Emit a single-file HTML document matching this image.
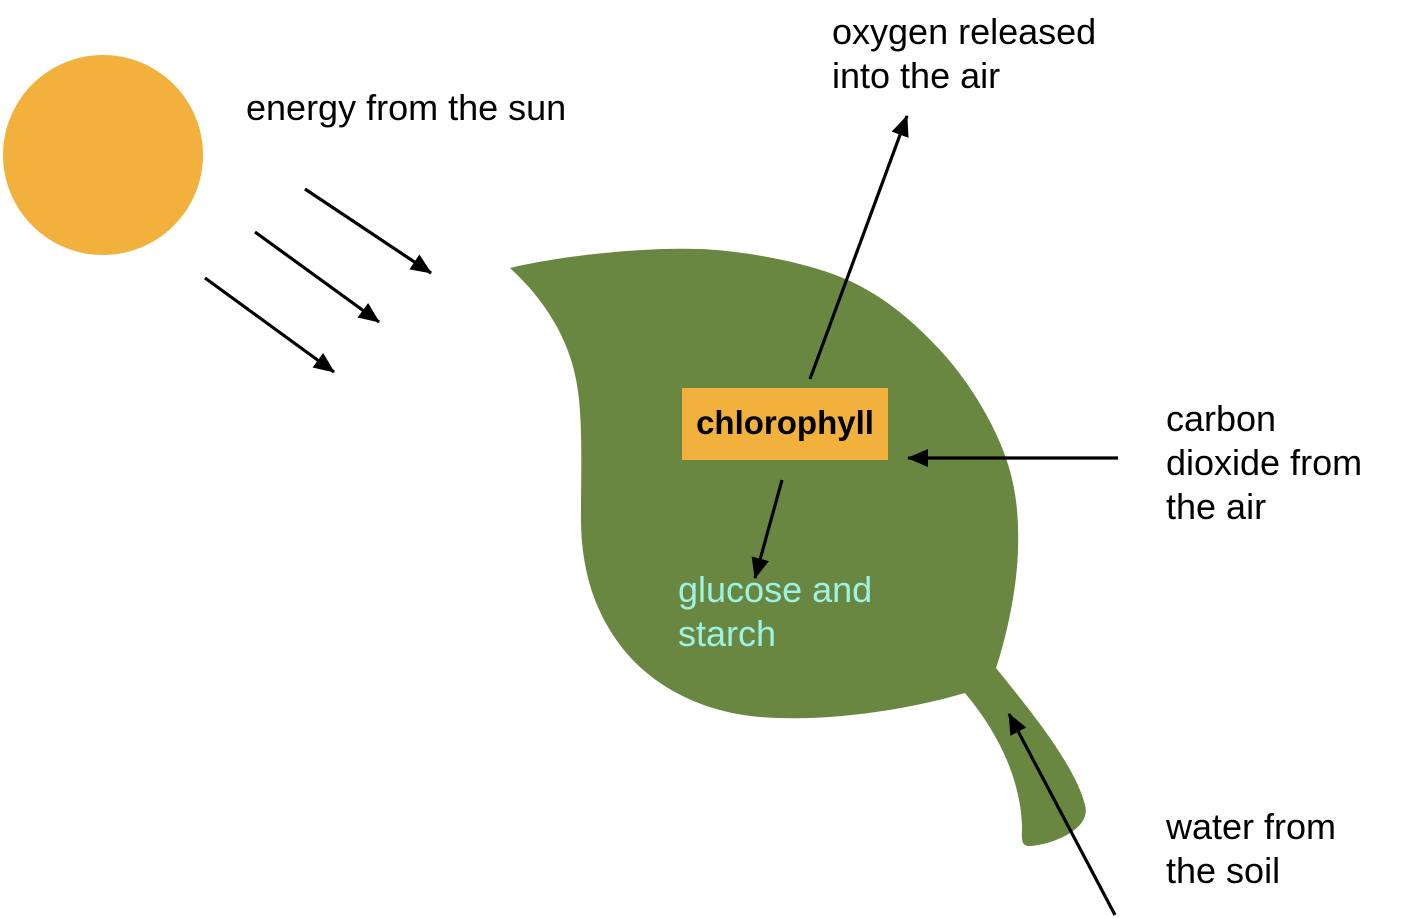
<!DOCTYPE html>
<html>
<head>
<meta charset="utf-8">
<style>
  html, body { margin: 0; padding: 0; background: #ffffff; }
  body { width: 1408px; height: 918px; overflow: hidden; }
  svg { display: block; }
  text { font-family: "Liberation Sans", Arial, sans-serif; }
</style>
</head>
<body>
<svg width="1408" height="918" viewBox="0 0 1408 918" xmlns="http://www.w3.org/2000/svg">
  <defs>
    <marker id="ah" markerUnits="userSpaceOnUse" markerWidth="22" markerHeight="20" refX="20" refY="9" orient="auto">
      <path d="M0,0 L21,9 L0,18 Z" fill="#000"/>
    </marker>
  </defs>

  <!-- Sun -->
  <circle cx="103" cy="155" r="100" fill="#F2B13D"/>

  <!-- Leaf -->
  <path fill="#6A8742" d="
    M510,268
    C560,256 640,247 700,249
    C740,250.5 803,261.2 843,278
    C883,294.8 913.3,321.3 940,350
    C966.7,378.7 990,416.7 1003,450
    C1016,483.3 1019,513.8 1018,550
    C1017,586.2 1008,632 996,668
    C1030,710 1075,765 1085,805
    C1092,830 1050,845 1030,846
    C1020,846 1022,838 1022,825
    C1020,780 1000,735 965,693
    C900,712 820,722 760,717
    C700,712 650,685 620,645
    C590,605 580,560 581,510
    C581,470 583,420 577,385
    C570,340 545,300 510,268 Z"/>

  <!-- Chlorophyll box -->
  <rect x="682" y="388" width="206" height="72" fill="#F2B13D"/>
  <text x="785" y="434" font-size="33" font-weight="bold" text-anchor="middle" fill="#000">chlorophyll</text>

  <!-- Sun rays -->
  <line x1="305" y1="189" x2="431" y2="273" stroke="#000" stroke-width="3.2" marker-end="url(#ah)"/>
  <line x1="255" y1="232" x2="379" y2="322" stroke="#000" stroke-width="3.2" marker-end="url(#ah)"/>
  <line x1="205" y1="278" x2="334" y2="372" stroke="#000" stroke-width="3.2" marker-end="url(#ah)"/>

  <!-- Oxygen arrow -->
  <line x1="810" y1="379" x2="907" y2="116" stroke="#000" stroke-width="3.2" marker-end="url(#ah)"/>
  <!-- Glucose arrow -->
  <line x1="782" y1="480" x2="755" y2="578" stroke="#000" stroke-width="3.2" marker-end="url(#ah)"/>
  <!-- CO2 arrow -->
  <line x1="1118" y1="458" x2="908" y2="458" stroke="#000" stroke-width="3.2" marker-end="url(#ah)"/>
  <!-- Water arrow -->
  <line x1="1115" y1="915" x2="1009" y2="714" stroke="#000" stroke-width="3.2" marker-end="url(#ah)"/>

  <!-- Labels -->
  <text x="246" y="120" font-size="36" fill="#000">energy from the sun</text>
  <text x="832" y="44" font-size="36" fill="#000">oxygen released</text>
  <text x="832" y="88" font-size="36" fill="#000">into the air</text>
  <text x="1166" y="431" font-size="36" fill="#000">carbon</text>
  <text x="1166" y="475" font-size="36" fill="#000">dioxide from</text>
  <text x="1166" y="519" font-size="36" fill="#000">the air</text>
  <text x="1166" y="839" font-size="36" fill="#000">water from</text>
  <text x="1166" y="883" font-size="36" fill="#000">the soil</text>
  <text x="678" y="602" font-size="36" fill="#9CF3E4">glucose and</text>
  <text x="678" y="646" font-size="36" fill="#9CF3E4">starch</text>
</svg>
</body>
</html>
